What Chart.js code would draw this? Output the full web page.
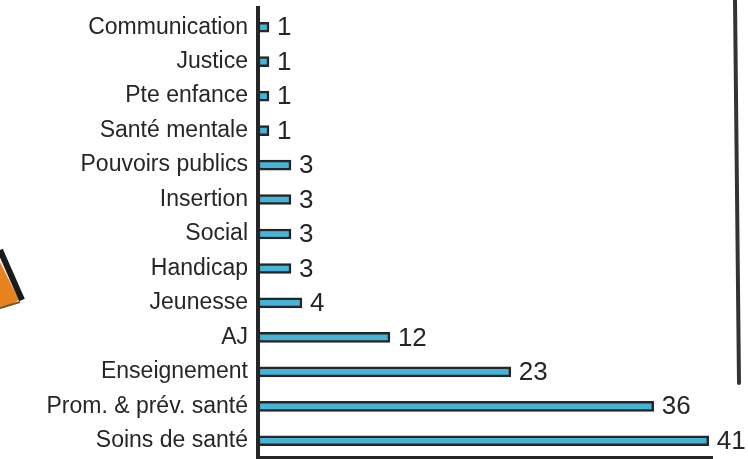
<!DOCTYPE html>
<html>
<head>
<meta charset="utf-8">
<script src="https://cdn.jsdelivr.net/npm/chart.js@4"></script>
<style>
  html, body { margin: 0; padding: 0; background: #ffffff; }
  #wrap { width: 748px; height: 459px; position: relative; }
</style>
</head>
<body>
<div id="wrap"><canvas id="sectorChart"></canvas></div>
<script>
// categories, top to bottom
const sectors = [
  "Communication", "Justice", "Pte enfance", "Santé mentale",
  "Pouvoirs publics", "Insertion", "Social", "Handicap",
  "Jeunesse", "AJ", "Enseignement", "Prom. & prév. santé", "Soins de santé"
];
const counts = [1, 1, 1, 1, 3, 3, 3, 3, 4, 12, 23, 36, 41];

const INK = "#262626";
const BAR_BLUE = "#45b4d6";
const FONT = "'Liberation Sans', 'DejaVu Sans', sans-serif";

// value written just past the end of each bar
const valueLabels = {
  id: "valueLabels",
  afterDatasetsDraw(chart) {
    const ctx = chart.ctx;
    const meta = chart.getDatasetMeta(0);
    ctx.save();
    ctx.fillStyle = INK;
    ctx.font = "26px " + FONT;
    ctx.textBaseline = "middle";
    ctx.textAlign = "left";
    meta.data.forEach((bar, i) => {
      ctx.fillText(String(counts[i]), bar.x + 8, bar.y + 1);
    });
    ctx.restore();
  }
};

// the bits of the drawing around the chart (frame line, orange corner)
const decorations = {
  id: "decorations",
  beforeDraw(chart) {
    const ctx = chart.ctx;
    ctx.save();
    // right frame stroke
    ctx.strokeStyle = "#333";
    ctx.lineWidth = 4;
    ctx.lineCap = "round";
    ctx.beginPath();
    ctx.moveTo(735, 0);
    ctx.lineTo(739, 383);
    ctx.stroke();
    // top end of the hand-drawn axis sticks out above the plot
    ctx.strokeStyle = INK;
    ctx.lineCap = "butt";
    ctx.beginPath();
    ctx.moveTo(chart.chartArea.left, 6);
    ctx.lineTo(chart.chartArea.left, chart.chartArea.top + 2);
    ctx.stroke();
    // orange shape on the left edge
    ctx.fillStyle = "#e8821e";
    ctx.beginPath();
    ctx.moveTo(0, 262);
    ctx.lineTo(19, 300);
    ctx.lineTo(12, 304);
    ctx.lineTo(0, 307);
    ctx.closePath();
    ctx.fill();
    ctx.strokeStyle = "#1a1a1a";
    ctx.lineWidth = 6;
    ctx.beginPath();
    ctx.moveTo(0, 250);
    ctx.lineTo(22, 300);
    ctx.stroke();
    ctx.lineWidth = 2;
    ctx.strokeStyle = "#6b5a1a";
    ctx.beginPath();
    ctx.moveTo(20, 302);
    ctx.lineTo(0, 308);
    ctx.stroke();
    ctx.restore();
  }
};

new Chart(document.getElementById("sectorChart"), {
  type: "bar",
  data: {
    labels: sectors,
    datasets: [{
      data: counts,
      backgroundColor: BAR_BLUE,
      borderColor: INK,
      borderWidth: 2.5,
      borderSkipped: false,
      barThickness: 10
    }]
  },
  options: {
    indexAxis: "y",
    responsive: true,
    maintainAspectRatio: false,
    animation: false,
    layout: { padding: { top: 10, right: 36, bottom: 1, left: 0 } },
    plugins: {
      legend: { display: false },
      tooltip: { enabled: false }
    },
    scales: {
      x: {
        min: 0,
        max: 41.3,
        afterFit(scale) { scale.height = 0; scale.paddingLeft = 0; scale.paddingRight = 0; },
        ticks: { display: false },
        grid: { display: false, drawTicks: false },
        border: { display: true, color: INK, width: 4 }
      },
      y: {
        afterFit(scale) { scale.width = 258; scale.paddingTop = 0; scale.paddingBottom = 0; },
        ticks: {
          color: INK,
          font: { family: FONT, size: 23 },
          padding: 10,
          autoSkip: false
        },
        grid: { display: false, drawTicks: false },
        border: { display: true, color: INK, width: 4 }
      }
    }
  },
  plugins: [decorations, valueLabels]
});
</script>
</body>
</html>
